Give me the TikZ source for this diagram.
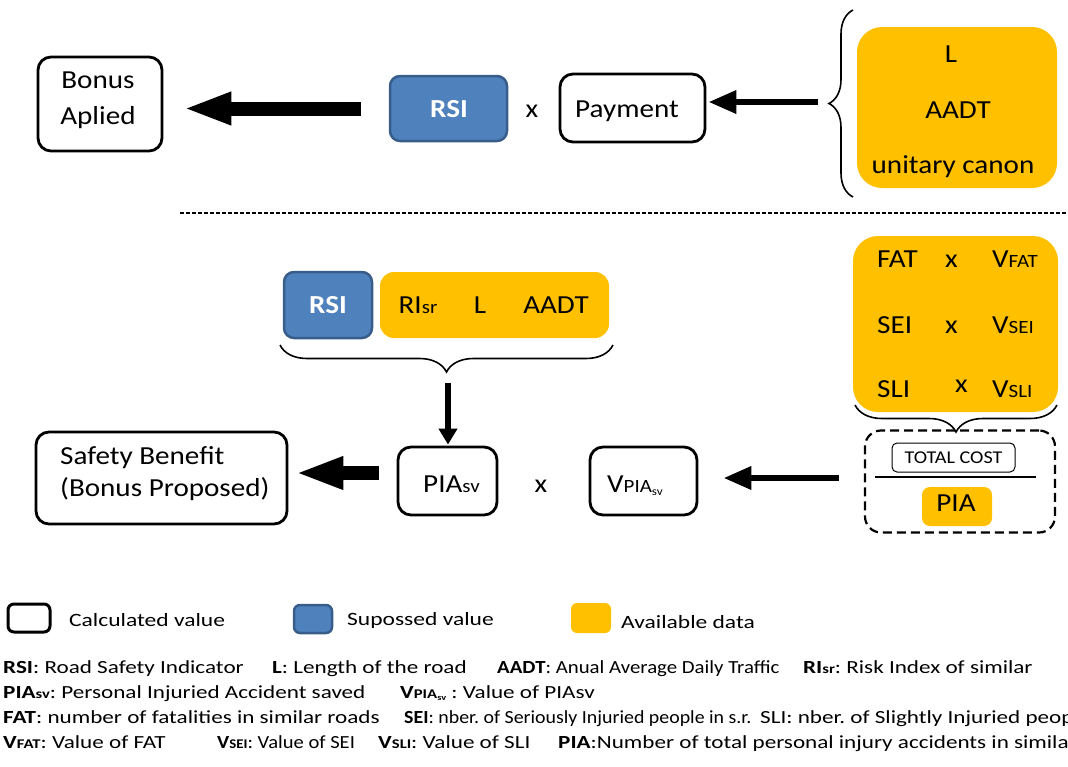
\documentclass[tikz,border=0pt]{standalone}
\usepackage{fontspec}
\setmainfont[FakeStretch=1.12]{Carlito}
\newfontfamily\fnfont[FakeStretch=1.25]{Carlito}
\usepackage{graphicx}
\usetikzlibrary{arrows.meta,decorations.pathreplacing}
\definecolor{yel}{HTML}{FFC000}
\definecolor{blu}{HTML}{4F81BD}
\definecolor{bluedge}{HTML}{385D8A}
\newcommand\sm[1]{\scalebox{0.72}{#1}}
\newcommand\lowsub[1]{\raisebox{-0.3ex}{\scalebox{0.45}{#1}}}
\newcommand\narrow[2]{\scalebox{#1}[1]{#2}}
\newcommand\fnsetup{\fnfont\fontsize{18.5}{22}\selectfont\frenchspacing}
\newcommand\legsetup{\fnfont\fontsize{18.8}{22}\selectfont}
\tikzset{
  calcbox/.style={draw=black, line width=2.8pt, rounded corners=13pt, fill=white, inner sep=0pt},
  supbox/.style={draw=bluedge, line width=2.5pt, fill=blu, rounded corners=10pt, inner sep=0pt},
  availbox/.style={fill=yel, rounded corners=22pt, inner sep=0pt},
  lbl/.style={font=\fontsize{26}{30}\selectfont, inner sep=0pt, anchor=base},
  lblw/.style={font=\fontsize{26}{30}\selectfont, inner sep=0pt, anchor=base west},
  rsitext/.style={font=\bfseries\fontsize{26}{30}\selectfont, text=white, inner sep=0pt, anchor=base},
  fn/.style={font=\fnsetup, inner sep=0pt, anchor=base west},
  leg/.style={font=\legsetup, inner sep=0pt, anchor=base west},
  bigarrow/.style={line width=14pt, -{Triangle[length=48pt,width=30pt]}},
  smallarrow/.style={line width=6.5pt, -{Triangle[length=28pt,width=22pt]}},
  downarrow/.style={line width=6.5pt, -{Triangle[length=16pt,width=18pt]}},
  bracedeco/.style={decorate, line width=1.6pt, decoration={brace, amplitude=#1}},
  sepline/.style={line width=1.3pt, dash pattern=on 4pt off 2pt},
}
\begin{document}
\begin{tikzpicture}[x=1pt,y=-1pt]
\useasboundingbox (0,0) rectangle (1068,766);
\clip (0,0) rectangle (1068,766);

% ---------------- top row ----------------
\node[calcbox, minimum width=124pt, minimum height=94pt] (bonus) at (100,104) {};
\node[lbl] (bonusA) at (98,88) {Bonus};
\node[lbl] (bonusB) at (98,124) {Aplied};

\node[supbox, minimum width=117pt, minimum height=65pt] (rsiTop) at (448.5,108.5) {};
\node[rsitext] (rsiTopT) at (449,117) {RSI};
\node[lbl] (xTop) at (532,117) {x};

\node[calcbox, minimum width=145pt, minimum height=68pt] (payment) at (632.5,108) {};
\node[lbl] (paymentT) at (627,117) {Payment};

\node[availbox, rounded corners=25pt, minimum width=200pt, minimum height=161pt] (availTop) at (957,107.5) {};
\node[lbl] (tL) at (951,62) {L};
\node[lbl] (tAADT) at (958,118) {AADT};
\node[lbl] (tcanon) at (953,173) {unitary canon};

\draw[bracedeco=24pt] (853,197) -- (853,10);
\coordinate (topTip) at (827,102);

\draw[bigarrow, shorten <=28pt, shorten >=20pt] (rsiTop.west) -- (bonus.east |- rsiTop.west);
\draw[smallarrow, shorten <=9pt, shorten >=2pt] (topTip) -- (payment.east |- topTip);

% separator
\coordinate (sepL) at (180,213);
\coordinate (sepR) at (1068,213);
\draw[sepline] (sepL) -- (sepR);

% ---------------- bottom row ----------------
\node[supbox, minimum width=88pt, minimum height=66pt] (rsiB) at (328,305) {};
\node[rsitext] (rsiBT) at (328,313) {RSI};
\node[availbox, rounded corners=14pt, minimum width=229pt, minimum height=66pt] (availB) at (494.5,305) {};
\node[lbl] (riB) at (418,313) {RI\sm{sr}};
\node[lbl] (lB) at (480,313) {L};
\node[lbl] (aadtB) at (556,313) {AADT};

\draw[bracedeco=27pt] (613,345) -- (280,345);
\coordinate (midTip) at (448,372);

\node[calcbox, minimum width=99pt, minimum height=68pt] (piasv) at (447.5,481) {};
\node[lblw] (piasvT) at (423,492) {PIA\sm{sv}};
\node[lbl] (xB) at (541,492) {x};
\node[calcbox, minimum width=107pt, minimum height=68pt] (vpia) at (643.5,481) {};
\node[lblw] (vpiaT) at (607,492) {V\sm{PIA}\lowsub{sv}};

\node[calcbox, minimum width=251pt, minimum height=92pt] (safety) at (161.5,478) {};
\node[lblw] (safetyA) at (60,464) {Safety Benefit};
\node[lblw] (safetyB) at (60,496) {(Bonus Proposed)};

\draw[downarrow, shorten <=11pt, shorten >=1pt] (midTip) -- (piasv.north -| midTip);
\draw[bigarrow, shorten <=18pt, shorten >=7pt] (piasv.west |- 0,473) -- (safety.east |- 0,473);

% right block
\node[availbox, rounded corners=25pt, minimum width=205pt, minimum height=176pt] (availR) at (955.5,324) {};
\node[lblw] (fat) at (877,267) {FAT};
\node[lblw] (x1) at (945,267) {x};
\node[lblw] (vfat) at (992,267) {V\sm{FAT}};
\node[lblw] (sei) at (877,333) {SEI};
\node[lblw] (x2) at (945,333) {x};
\node[lblw] (vsei) at (992,333) {V\sm{SEI}};
\node[lblw] (sli) at (877,397) {SLI};
\node[lblw] (x3) at (955,392) {x};
\node[lblw] (vsli) at (992,397) {V\sm{SLI}};

\draw[bracedeco=27pt] (1057,405) -- (855,405);
\coordinate (rightTip) at (956,432);

\node[draw, line width=2.2pt, dash pattern=on 9pt off 5pt, rounded corners=16pt, minimum width=190pt, minimum height=102pt, inner sep=0pt] (frac) at (960,481.5) {};
\node[draw, line width=1pt, rounded corners=5pt, minimum width=123pt, minimum height=29pt, inner sep=0pt, font=\fontsize{18}{20}\selectfont] (tcost) at (953.5,457.5) {TOTAL COST};
\coordinate (fracL) at (875,477);
\coordinate (fracR) at (1036,477);
\draw[line width=1.6pt] (fracL) -- (fracR);
\node[availbox, rounded corners=8pt, minimum width=70pt, minimum height=39pt] (piaBox) at (957,506.5) {};
\node[lbl] (piaT) at (956,511) {PIA};

\draw[smallarrow, shorten <=25pt, shorten >=25pt] (frac.west |- 0,478) -- (vpia.east |- 0,478);

% ---------------- legend ----------------
\node[calcbox, line width=3pt, rounded corners=6pt, minimum width=42pt, minimum height=28pt] (leg1) at (29,618) {};
\node[leg] (leg1T) at (69,626) {Calculated value};
\node[supbox, rounded corners=6pt, minimum width=38pt, minimum height=28pt] (leg2) at (313,619) {};
\node[leg] (leg2T) at (347,625) {Supossed value};
\node[availbox, rounded corners=6pt, minimum width=40pt, minimum height=30pt] (leg3) at (591,618) {};
\node[leg] (leg3T) at (621,628) {Available data};

% ---------------- footnotes ----------------
\node[fn] (f11) at (3,673) {\textbf{RSI}: Road Safety Indicator};
\node[fn] (f12) at (272,673) {\textbf{L}: Length of the road};
\node[fn] (f13) at (497,673) {\narrow{0.9}{\textbf{AADT}: Anual Average Daily Traffic}};
\node[fn] (f14) at (803,673) {\textbf{RI\sm{sr}}: Risk Index of similar};

\node[fn] (f21) at (3,698) {\textbf{PIA\sm{sv}}: Personal Injuried Accident saved};
\node[fn] (f22) at (400,698) {\textbf{V\sm{PIA}\lowsub{sv}} : Value of PIAsv};

\node[fn] (f31) at (3,723) {\textbf{FAT}: number of fatalities in similar roads};
\node[fn] (f32) at (404,723) {\narrow{0.86}{\textbf{SEI}: nber. of Seriously Injuried people in s.r.}};
\node[fn] (f33) at (760,723) {SLI: nber. of Slightly Injuried people in s.r.};

\node[fn] (f41) at (3,748) {\textbf{V\sm{FAT}}: Value of FAT};
\node[fn] (f42) at (217,748) {\narrow{0.89}{\textbf{V\sm{SEI}}: Value of SEI}};
\node[fn] (f43) at (378,748) {\textbf{V\sm{SLI}}: Value of SLI};
\node[fn] (f44) at (558,748) {\textbf{PIA}:Number of total personal injury accidents in similar roads};
\end{tikzpicture}
\end{document}
